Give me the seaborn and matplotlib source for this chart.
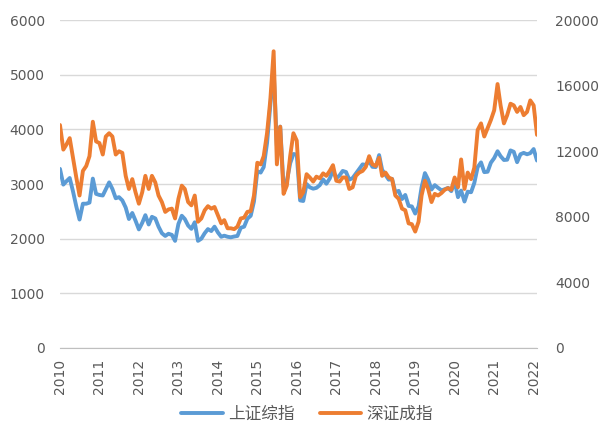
import pandas as pd
import numpy as np
import matplotlib.pyplot as plt
import seaborn as sns

# month-start points, Jan 2010 .. Feb 2022
months = pd.date_range("2010-01-01", "2022-02-01", freq="MS")

# 上证综指 (left axis)
sh = [3277, 2990, 3050, 3110, 2870, 2590, 2350, 2640, 2640, 2660, 3100, 2820,
      2800, 2790, 2905, 3030, 2910, 2740, 2760, 2700, 2570, 2360, 2470, 2330,
      2170, 2290, 2430, 2260, 2400, 2370, 2220, 2100, 2050, 2090, 2070, 1960,
      2270, 2420, 2360, 2240, 2180, 2300, 1960, 2000, 2100, 2175, 2140, 2220,
      2115, 2035, 2055, 2035, 2025, 2040, 2050, 2200, 2220, 2365, 2420, 2680,
      3235, 3210, 3310, 3750, 4440, 5100, 3700, 4050, 2950, 3050, 3380, 3550,
      3540, 2700, 2690, 3000, 2940, 2915, 2930, 2980, 3085, 3005, 3100, 3250,
      3105, 3160, 3240, 3220, 3080, 3110, 3190, 3275, 3360, 3350, 3420, 3315,
      3310, 3530, 3260, 3170, 3080, 3095, 2850, 2875, 2725, 2800, 2600, 2590,
      2460, 2590, 2940, 3200, 3080, 2900, 2980, 2930, 2885, 2905, 2930, 2870,
      3050, 2760, 2880, 2680, 2860, 2850, 3020, 3310, 3396, 3218, 3225, 3390,
      3475, 3600, 3510, 3440, 3445, 3615, 3590, 3400, 3545, 3570, 3545, 3565,
      3640, 3430]

# 深证成指 (right axis)
sz = [13600, 12100, 12400, 12800, 11600, 10400, 9300, 10800, 11100, 11700, 13800, 12600,
      12500, 11800, 12900, 13100, 12900, 11800, 12000, 11900, 10500, 9700, 10300, 9500,
      8800, 9500, 10500, 9700, 10500, 10100, 9300, 8900, 8300, 8450, 8500, 7900,
      9100, 9900, 9700, 8900, 8700, 9300, 7700, 7900, 8400, 8650, 8500, 8600,
      8100, 7600, 7800, 7300, 7300, 7250, 7400, 7900, 7950, 8300, 8350, 9300,
      11300, 11200, 11700, 13100, 15100, 18100, 11200, 13500, 9400, 9900, 11700, 13100,
      12650, 9200, 9500, 10600, 10400, 10150, 10450, 10350, 10650, 10500, 10800, 11150,
      10200, 10150, 10400, 10400, 9700, 9800, 10500, 10700, 10800, 11050, 11700, 11200,
      11100, 11600, 10500, 10700, 10400, 10300, 9300, 9100, 8500, 8400, 7600, 7550,
      7100, 7700, 9300, 10200, 9700, 8900, 9400, 9300, 9450, 9650, 9750, 9650,
      10400, 9800, 11500, 9700, 10700, 10300, 11000, 13300, 13700, 12900, 13400, 13900,
      14500, 16100, 14800, 13700, 14200, 14900, 14800, 14400, 14700, 14200, 14400, 15100,
      14800, 13000]

years = list(range(2010, 2023))

sns.set_style("white")
plt.rcParams['font.family'] = ['DejaVu Sans', 'Noto Sans CJK SC']

blue = "#5B9BD5"
orange = "#ED7D31"
grey_txt = "#595959"

fig = plt.figure(figsize=(6.01, 4.28), dpi=100)
ax = fig.add_axes([0.0998, 0.187, 0.7937, 0.766])

sns.lineplot(x=months, y=sh, ax=ax, color=blue, linewidth=2.8, label="上证综指", legend=False)
ax2 = ax.twinx()
sns.lineplot(x=months, y=sz, ax=ax2, color=orange, linewidth=2.8, label="深证成指", legend=False)

ax.set_xlim(months[0], months[-1])
ax.set_ylim(0, 6000)
ax.set_yticks(range(0, 7000, 1000))
ax2.set_ylim(0, 20000)
ax2.set_yticks(range(0, 24000, 4000))

tick_dates = pd.to_datetime([f"{y}-01-01" for y in years])
ax.set_xticks(tick_dates)
ax.set_xticklabels([str(y) for y in years], rotation=90)

ax.grid(axis="y", color="#D9D9D9", linewidth=1)
ax.grid(axis="x", visible=False)
ax.set_axisbelow(True)

for s in ["top", "left", "right"]:
    ax.spines[s].set_visible(False)
for s in ["top", "left", "right", "bottom"]:
    ax2.spines[s].set_visible(False)
ax.spines["bottom"].set_color("#BFBFBF")

ax.tick_params(axis="y", length=0, pad=11, labelsize=10, labelcolor=grey_txt)
ax.tick_params(axis="x", length=5, color="#BFBFBF", pad=3, labelsize=10, labelcolor=grey_txt)
ax2.tick_params(axis="y", length=0, pad=13, labelsize=10, labelcolor=grey_txt)

for a in (ax, ax2):
    a.set_xlabel("")
    a.set_ylabel("")

h1, l1 = ax.get_legend_handles_labels()
h2, l2 = ax2.get_legend_handles_labels()
leg = fig.legend(h1 + h2, l1 + l2, loc="center", bbox_to_anchor=(0.511, 0.033),
                 ncol=2, frameon=False, fontsize=12, handlelength=2.5,
                 columnspacing=1.5, handletextpad=0.3)
for t in leg.get_texts():
    t.set_color(grey_txt)

fig.savefig("out.png", dpi=100)
